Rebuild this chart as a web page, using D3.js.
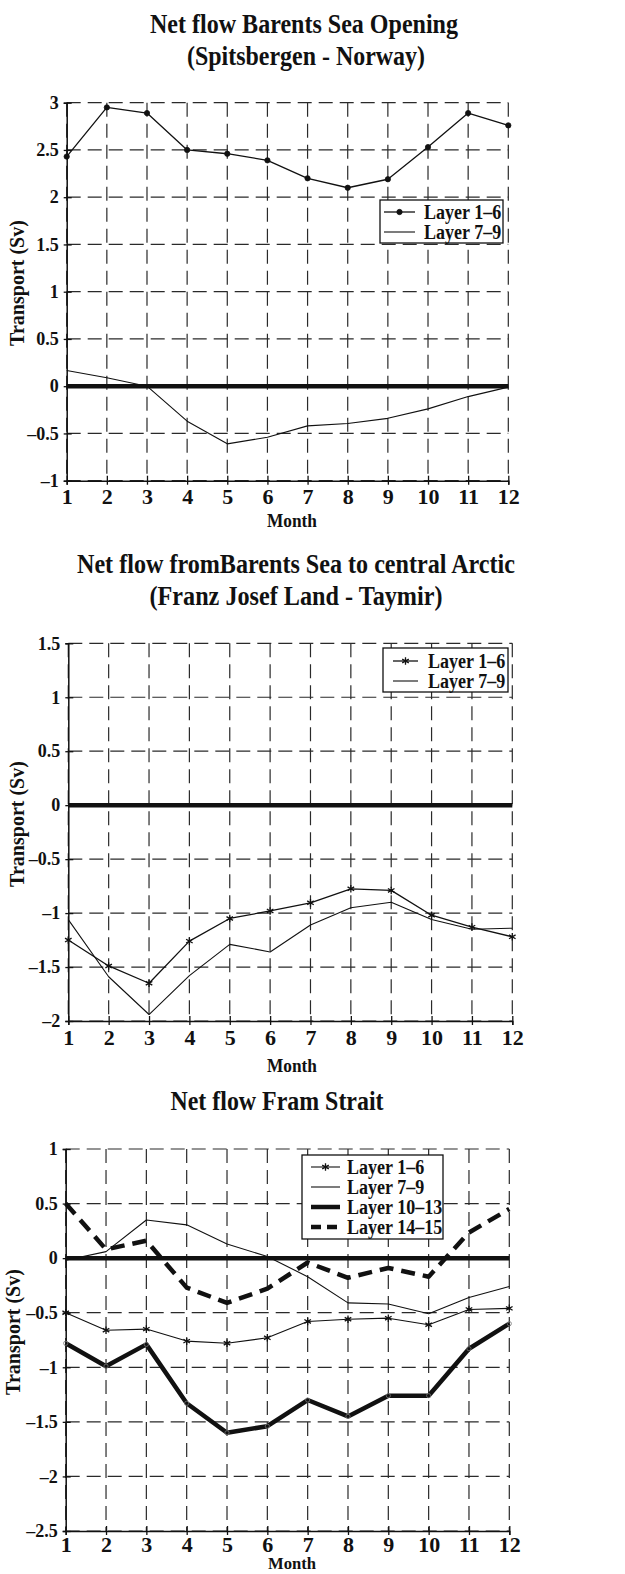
<!DOCTYPE html>
<html><head><meta charset="utf-8">
<script src="https://cdn.jsdelivr.net/npm/d3@7"></script>
<style>
body{margin:0;background:#fff;}
svg text{font-family:"Liberation Serif","Times New Roman",serif;font-weight:bold;fill:#111;}
</style></head>
<body><svg id="c" width="625" height="1574"></svg>
<script>
const months = [1,2,3,4,5,6,7,8,9,10,11,12];
// Panel 1: Barents Sea Opening
const bso_L1_6 = [2.43,2.95,2.89,2.50,2.46,2.39,2.20,2.10,2.19,2.53,2.89,2.76];
const bso_L7_9 = [0.166,0.09,0.0,-0.37,-0.61,-0.54,-0.42,-0.395,-0.34,-0.24,-0.11,-0.01];
// Panel 2: Barents Sea to central Arctic
const fjt_L1_6 = [-1.25,-1.49,-1.65,-1.26,-1.05,-0.98,-0.905,-0.775,-0.79,-1.02,-1.13,-1.22];
const fjt_L7_9 = [-1.06,-1.59,-1.94,-1.58,-1.29,-1.36,-1.11,-0.95,-0.90,-1.06,-1.15,-1.14];
// Panel 3: Fram Strait
const fram_L1_6 = [-0.50,-0.66,-0.65,-0.76,-0.78,-0.73,-0.58,-0.56,-0.55,-0.61,-0.47,-0.46];
const fram_L7_9 = [-0.02,0.06,0.35,0.305,0.13,0.015,-0.17,-0.41,-0.42,-0.51,-0.36,-0.26];
const fram_L10_13 = [-0.78,-0.99,-0.79,-1.33,-1.60,-1.54,-1.30,-1.45,-1.26,-1.26,-0.83,-0.60];
const fram_L14_15 = [0.50,0.08,0.16,-0.27,-0.41,-0.28,-0.04,-0.18,-0.09,-0.17,0.235,0.45];

const yTicks1 = [-1,-0.5,0,0.5,1,1.5,2,2.5,3];
const yTicks2 = [-2,-1.5,-1,-0.5,0,0.5,1,1.5];
const yTicks3 = [-2.5,-2,-1.5,-1,-0.5,0,0.5,1];

const titles1 = ["Net flow Barents Sea Opening","(Spitsbergen - Norway)"];
const titles2 = ["Net flow fromBarents Sea to central Arctic","(Franz Josef Land - Taymir)"];
const titles3 = ["Net flow Fram Strait"];
const xLabel = "Month", yLabel = "Transport (Sv)";

const svg = d3.select("#c");
const fmt = v => (v < 0 ? "\u2013" : "") + String(Math.abs(v));
function squeeze(sel, k){
  sel.each(function(){
    const w = this.getComputedTextLength();
    d3.select(this).attr("textLength", w*k).attr("lengthAdjust","spacingAndGlyphs");
  });
}

function panel(cfg){
  const g = svg.append("g");
  const x = d3.scaleLinear().domain([1,12]).range([cfg.x0,cfg.x1]);
  const y = d3.scaleLinear().domain(cfg.ydom).range([cfg.yb,cfg.yt]);
  // titles
  cfg.titles.forEach((t,i)=>{
    g.append("text").attr("x",cfg.tx[i]).attr("y",cfg.ty[i]).attr("text-anchor","middle")
      .attr("font-size",28).attr("textLength",cfg.tw[i]).attr("lengthAdjust","spacingAndGlyphs").text(t);
  });
  // grid
  const grid = g.append("g").attr("stroke","#2a2a2a").attr("stroke-width",1.2).attr("stroke-dasharray","14,7");
  grid.selectAll(".h").data(cfg.ticks).join("line")
    .attr("x1",cfg.x0).attr("x2",cfg.x1).attr("y1",d=>y(d)).attr("y2",d=>y(d));
  grid.selectAll(".v").data(months).join("line")
    .attr("x1",d=>x(d)).attr("x2",d=>x(d)).attr("y1",cfg.yt).attr("y2",cfg.yb);
  // zero line
  g.append("line").attr("x1",x(1)).attr("x2",x(12)).attr("y1",y(0)).attr("y2",y(0))
    .attr("stroke","#111").attr("stroke-width",4.5);
  // axes
  const ax = g.append("g").attr("transform",`translate(0,${cfg.yb})`)
    .call(d3.axisBottom(x).tickValues(months).tickSize(4).tickFormat(d3.format("d")));
  ax.select(".domain").attr("stroke","#111").attr("stroke-width",1.5);
  ax.selectAll(".tick line").attr("y1",-5).attr("y2",4).attr("stroke","#111").attr("stroke-width",1.3);
  ax.selectAll(".tick text").attr("y",cfg.xty).attr("dy","0.71em").attr("font-size",22)
    .attr("font-family","Liberation Serif").attr("font-weight","bold").attr("fill","#111");
  const ay = g.append("g").attr("transform",`translate(${cfg.x0},0)`)
    .call(d3.axisLeft(y).tickValues(cfg.ticks).tickSize(3).tickFormat(fmt));
  ay.select(".domain").attr("stroke","#111").attr("stroke-width",1.5);
  ay.selectAll(".tick line").attr("x1",-3).attr("x2",5).attr("stroke","#111").attr("stroke-width",1.3);
  ay.selectAll(".tick text").attr("x",-8).attr("font-size",18)
    .attr("font-family","Liberation Serif").attr("font-weight","bold").attr("fill","#111");
  // axis labels
  g.append("text").attr("x",cfg.mx).attr("y",cfg.my).attr("text-anchor","middle").attr("font-size",cfg.mfs)
    .attr("textLength",cfg.mw).attr("lengthAdjust","spacingAndGlyphs").text(xLabel);
  g.append("text").attr("transform",`translate(${cfg.lx},${cfg.ly}) rotate(-90)`).attr("text-anchor","middle")
    .attr("font-size",20).text(yLabel);
  // series
  const line = d3.line().x((d,i)=>x(months[i])).y(d=>y(d));
  cfg.series.forEach(s=>{
    g.append("path").datum(s.data).attr("d",line).attr("fill","none").attr("stroke","#111")
      .attr("stroke-width",s.w).attr("stroke-dasharray",s.dash||null).attr("stroke-linejoin","round");
    if(s.marker){
      const sym = d3.symbol().type(s.marker==="star"?d3.symbolAsterisk:d3.symbolCircle)
        .size(s.marker==="dot"?22:(s.marker==="o"?14:40));
      g.append("g").selectAll("path").data(s.data).join("path")
        .attr("transform",(d,i)=>`translate(${x(months[i])},${y(d)})`)
        .attr("d",sym)
        .attr("fill",s.marker==="o"?"none":"#111")
        .attr("stroke",s.marker==="o"?"#777":"#111").attr("stroke-width",s.marker==="star"?1.3:0.8);
    }
  });
  // legend
  const L = cfg.leg;
  const lg = g.append("g");
  lg.append("rect").attr("x",L.x).attr("y",L.y).attr("width",L.w).attr("height",L.h)
    .attr("fill","#fff").attr("stroke","#111").attr("stroke-width",1.3);
  cfg.series.forEach((s,i)=>{
    const cy = L.y + L.r0 + i*L.dy;
    lg.append("line").attr("x1",L.sx0).attr("x2",L.sx1).attr("y1",cy).attr("y2",cy)
      .attr("stroke","#111").attr("stroke-width",s.w).attr("stroke-dasharray",s.dash?"10,6":null);
    if(s.marker && s.marker!=="o"){
      const sym = d3.symbol().type(s.marker==="dot"?d3.symbolCircle:d3.symbolAsterisk).size(s.marker==="dot"?22:40);
      lg.append("path").attr("transform",`translate(${(L.sx0+L.sx1)/2},${cy})`).attr("d",sym)
        .attr("fill","#111").attr("stroke","#111").attr("stroke-width",s.marker==="star"?1.3:0.8);
    }
    lg.append("text").attr("x",L.tx).attr("y",cy).attr("dy","0.35em").attr("font-size",20).text(s.name)
      .call(squeeze, 0.9);
  });
}

panel({x0:66.7,x1:508.3,yt:102.7,yb:480.7,ydom:[-1,3],ticks:yTicks1,
  titles:titles1,tx:[304,306],ty:[33,65],tw:[308,238],
  mx:292,my:527,mfs:18,mw:50,lx:24,ly:283,xty:8,
  series:[{name:"Layer 1\u20136",data:bso_L1_6,w:1.3,marker:"dot"},
          {name:"Layer 7\u20139",data:bso_L7_9,w:1.1}],
  leg:{x:380,y:200,w:123,h:43,r0:12,dy:20,sx0:384,sx1:415,tx:424}});

panel({x0:68.3,x1:512.3,yt:643.3,yb:1021,ydom:[-2,1.5],ticks:yTicks2,
  titles:titles2,tx:[296,296],ty:[573,605],tw:[438,293],
  mx:292,my:1072,mfs:18,mw:50,lx:24,ly:824,xty:8,
  series:[{name:"Layer 1\u20136",data:fjt_L1_6,w:1.3,marker:"star"},
          {name:"Layer 7\u20139",data:fjt_L7_9,w:1.1}],
  leg:{x:383,y:648,w:125,h:44,r0:13,dy:20,sx0:393,sx1:418,tx:428}});

panel({x0:65.7,x1:509.3,yt:1149,yb:1531,ydom:[-2.5,1],ticks:yTicks3,
  titles:titles3,tx:[277],ty:[1110],tw:[213],
  mx:292,my:1569,mfs:17,mw:48,lx:20,ly:1332,xty:5,
  series:[{name:"Layer 1\u20136",data:fram_L1_6,w:1.1,marker:"star"},
          {name:"Layer 7\u20139",data:fram_L7_9,w:1.1},
          {name:"Layer 10\u201313",data:fram_L10_13,w:4.5,marker:"o"},
          {name:"Layer 14\u201315",data:fram_L14_15,w:4.5,dash:"14,8"}],
  leg:{x:302,y:1155,w:141,h:84,r0:12,dy:20,sx0:311,sx1:340,tx:347}});
</script></body></html>
